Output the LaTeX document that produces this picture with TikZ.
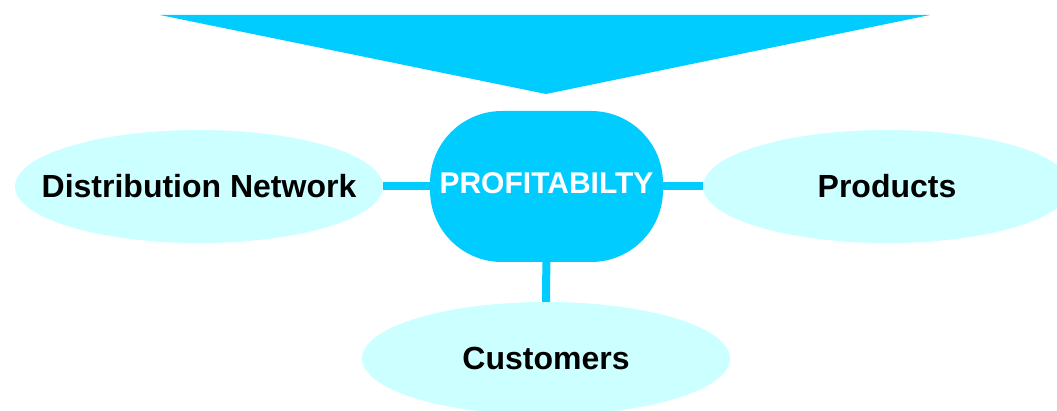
\documentclass[tikz,border=0pt]{standalone}
\usepackage{fontspec}
\setmainfont{Liberation Sans}
\usepackage{tikz}
\usetikzlibrary{shapes.geometric, positioning}

\definecolor{profitblue}{HTML}{00CCFF}
\definecolor{leafcyan}{HTML}{CCFFFF}

\tikzset{
  leaf/.style={ellipse, fill=leafcyan, inner ysep=0pt, inner xsep=-30pt,
    minimum width=368pt, minimum height=113pt,
    font=\fontsize{32}{38}\selectfont\bfseries},
  hub/.style={rectangle, rounded corners=72pt, fill=profitblue, text=white,
    minimum width=233pt, minimum height=151pt, inner sep=0pt, text depth=6pt,
    font=\fontsize{30}{36}\selectfont\bfseries},
  link/.style={profitblue, line width=8pt}
}

\begin{document}
\begin{tikzpicture}[x=1pt, y=-1pt]
  % Frame of the picture
  \useasboundingbox (0,0) rectangle (1057,411);

  % Big arrow head at the top
  \fill[profitblue] (160,15) -- (930,15) -- (546,94) -- cycle;

  % Centre node
  \node[hub] (profit) at (546.5,186.5) {PROFITABILTY};

  % The three leaves
  \node[leaf] (dist) at (199,186.5) {Distribution Network};
  \node[leaf] (prod) at (887,186.5) {Products};
  \node[leaf] (cust) at (546,358.5) {Customers};

  % Links to the centre
  \draw[link] (dist) -- (profit);
  \draw[link] (profit) -- (prod);
  \draw[link] (profit) -- (cust);
\end{tikzpicture}
\end{document}
